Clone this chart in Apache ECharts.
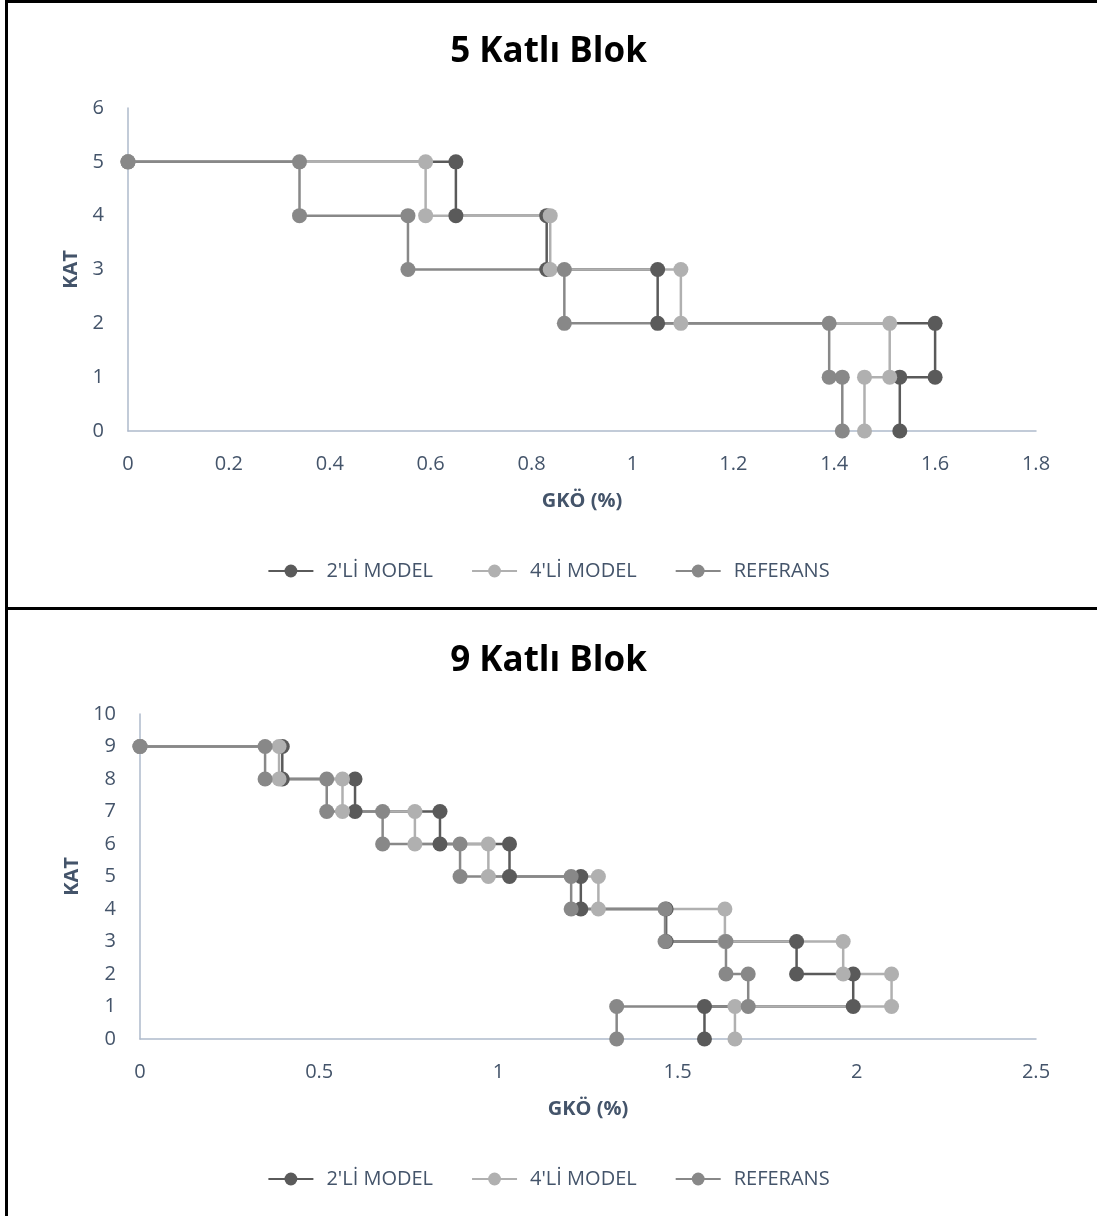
<!DOCTYPE html>
<html>
<head>
<meta charset="utf-8">
<script src="https://cdn.jsdelivr.net/npm/echarts@6/dist/echarts.min.js"></script>
<style>
  body { margin: 0; background: #fff; }
  .chart { position: absolute; left: 0; width: 1097px; }
  .line { position: absolute; background: #000; z-index: 10; }
</style>
</head>
<body>
<div id="chart5" class="chart" style="top:0;height:608px"></div>
<div id="chart9" class="chart" style="top:609px;height:607px"></div>
<div class="line" style="left:5px;top:0;width:1092px;height:3px"></div>
<div class="line" style="left:5px;top:0;width:3px;height:1216px"></div>
<div class="line" style="left:5px;top:607px;width:1092px;height:3px"></div>
<script>
// kat sirasi ustten alta, GKO (%) degerleri
const floors5 = [5, 4, 3, 2, 1];
const model2_5 = [0.65, 0.83, 1.05, 1.60, 1.53];
const model4_5 = [0.59, 0.837, 1.096, 1.51, 1.46];
const ref_5 = [0.34, 0.555, 0.865, 1.39, 1.416];
const xTicks5 = [0, 0.2, 0.4, 0.6, 0.8, 1, 1.2, 1.4, 1.6, 1.8];
const yTicks5 = [0, 1, 2, 3, 4, 5, 6];

const floors9 = [9, 8, 7, 6, 5, 4, 3, 2, 1];
const model2_9 = [0.397, 0.600, 0.837, 1.031, 1.230, 1.468, 1.832, 1.990, 1.575];
const model4_9 = [0.388, 0.565, 0.767, 0.972, 1.279, 1.632, 1.962, 2.097, 1.660];
const ref_9 = [0.349, 0.521, 0.677, 0.893, 1.203, 1.465, 1.635, 1.697, 1.330];
const xTicks9 = [0, 0.5, 1, 1.5, 2, 2.5];
const yTicks9 = [0, 1, 2, 3, 4, 5, 6, 7, 8, 9, 10];

const names = ["2'Lİ MODEL", "4'Lİ MODEL", 'REFERANS'];
const colors = ['#5a5a5a', '#b0b0b0', '#888888'];

const textColor = '#44546a';
const axisColor = '#aebacb';
const font = "'Open Sans', sans-serif";

// basamakli cizgi: her kat icin (d, kat) -> (d, kat-1)
function steps(floors, drifts) {
    const pts = [[0, floors[0]]];
    floors.forEach((f, i) => {
        pts.push([drifts[i], f]);
        pts.push([drifts[i], f - 1]);
    });
    return pts;
}

function makeOption(title, floors, series, xTicks, yTicks, gridTop, gridLeft, katGap) {
    return {
        animation: false,
        textStyle: { fontFamily: font },
        title: {
            text: title,
            left: 'center',
            top: 30,
            textStyle: { fontSize: 35, fontWeight: 'bold', color: '#000', fontFamily: font }
        },
        legend: {
            bottom: 22,
            left: 'center',
            itemWidth: 45,
            itemHeight: 16,
            itemGap: 38,
            data: names,
            textStyle: { color: textColor, fontSize: 20, fontFamily: font, padding: [0, 0, 0, 8] }
        },
        grid: {
            left: gridLeft,
            right: 61,
            top: gridTop,
            bottom: 177
        },
        xAxis: {
            type: 'value',
            min: xTicks[0],
            max: xTicks[xTicks.length - 1],
            interval: xTicks[1] - xTicks[0],
            name: 'GKÖ (%)',
            nameLocation: 'middle',
            nameGap: 60,
            nameTextStyle: { color: textColor, fontSize: 20, fontWeight: 'bold' },
            axisLine: { lineStyle: { color: axisColor, width: 1.5 } },
            axisTick: { show: false },
            splitLine: { show: false },
            axisLabel: { color: textColor, fontSize: 20, margin: 23 }
        },
        yAxis: {
            type: 'value',
            min: yTicks[0],
            max: yTicks[yTicks.length - 1],
            interval: 1,
            name: 'KAT',
            nameLocation: 'middle',
            nameGap: katGap,
            nameTextStyle: { color: textColor, fontSize: 20, fontWeight: 'bold' },
            axisLine: { show: true, lineStyle: { color: axisColor, width: 1.5 } },
            axisTick: { show: false },
            splitLine: { show: false },
            axisLabel: { color: textColor, fontSize: 20, margin: 24 }
        },
        series: series.map((d, i) => ({
            name: names[i],
            type: 'line',
            data: steps(floors, d),
            symbol: 'circle',
            symbolSize: 15,
            color: colors[i],
            lineStyle: { color: colors[i], width: 2.5 },
            itemStyle: { color: colors[i] }
        }))
    };
}

var chart5 = echarts.init(document.getElementById('chart5'));
chart5.setOption(makeOption('5 Katlı Blok', floors5, [model2_5, model4_5, ref_5], xTicks5, yTicks5, 108, 128, 46));

var chart9 = echarts.init(document.getElementById('chart9'));
chart9.setOption(makeOption('9 Katlı Blok', floors9, [model2_9, model4_9, ref_9], xTicks9, yTicks9, 105, 140, 56));
</script>
</body>
</html>
